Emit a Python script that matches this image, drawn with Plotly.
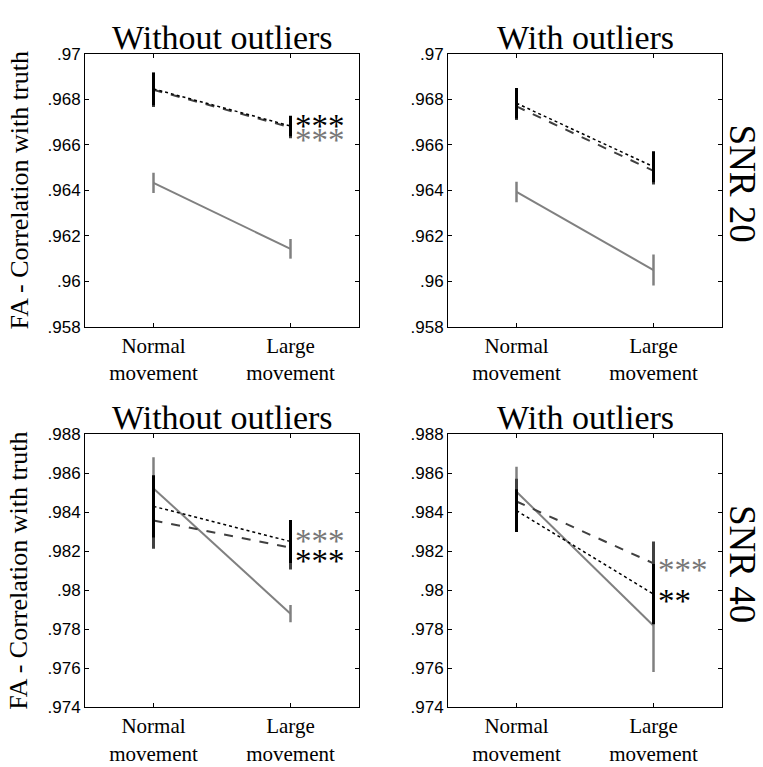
import plotly.graph_objects as go

# ---------------- data ----------------
conditions = ["Normal<br>movement", "Large<br>movement"]
panel_titles = ["Without outliers", "With outliers"]
row_labels = ["SNR 20", "SNR 40"]

# SNR 20 without outliers
s20_wo_solid = [0.96433, 0.96143]
s20_wo_solid_err = [0.00044, 0.00043]
s20_wo_dash = [0.96842, 0.96677]
s20_wo_dash_err = [0.00075, 0.00048]
s20_wo_dot = [0.96846, 0.96683]
s20_wo_dot_err = [0.00072, 0.00045]

# SNR 20 with outliers
s20_w_solid = [0.96393, 0.96050]
s20_w_solid_err = [0.00045, 0.00068]
s20_w_dash = [0.96769, 0.96486]
s20_w_dash_err = [0.00060, 0.00060]
s20_w_dot = [0.96783, 0.96504]
s20_w_dot_err = [0.00067, 0.00068]

# SNR 40 without outliers
s40_wo_solid = [0.98522, 0.97880]
s40_wo_solid_err = [0.00160, 0.00044]
s40_wo_dash = [0.98358, 0.98218]
s40_wo_dash_err = [0.00145, 0.00112]
s40_wo_dot = [0.98430, 0.98250]
s40_wo_dot_err = [0.00160, 0.00110]

# SNR 40 with outliers
s40_w_solid = [0.98505, 0.97818]
s40_w_solid_err = [0.00128, 0.00237]
s40_w_dash = [0.98455, 0.98138]
s40_w_dash_err = [0.00117, 0.00112]
s40_w_dot = [0.98408, 0.97980]
s40_w_dot_err = [0.00110, 0.00155]

top_ticks = [0.958, 0.960, 0.962, 0.964, 0.966, 0.968, 0.970]
top_ticktext = [".958", ".96", ".962", ".964", ".966", ".968", ".97"]
bot_ticks = [0.974, 0.976, 0.978, 0.980, 0.982, 0.984, 0.986, 0.988]
bot_ticktext = [".974", ".976", ".978", ".98", ".982", ".984", ".986", ".988"]

# significance stars: (panel, y value, text, color)
stars = [
    (0, 0.96700, "***", "black"),
    (0, 0.96637, "***", "#777777"),
    (2, 0.98271, "***", "#777777"),
    (2, 0.98172, "***", "black"),
    (3, 0.98122, "***", "#777777"),
    (3, 0.97963, "**", "black"),
]

panels = [
    (s20_wo_solid, s20_wo_solid_err, s20_wo_dash, s20_wo_dash_err, s20_wo_dot, s20_wo_dot_err),
    (s20_w_solid, s20_w_solid_err, s20_w_dash, s20_w_dash_err, s20_w_dot, s20_w_dot_err),
    (s40_wo_solid, s40_wo_solid_err, s40_wo_dash, s40_wo_dash_err, s40_wo_dot, s40_wo_dot_err),
    (s40_w_solid, s40_w_solid_err, s40_w_dash, s40_w_dash_err, s40_w_dot, s40_w_dot_err),
]

# ---------------- layout geometry ----------------
W, H = 763, 767
xdoms = [(85 / W, 359 / W), (448 / W, 722 / W)]
ydoms = [((H - 326) / H, (H - 46) / H), ((H - 716) / H, (H - 436) / H)]

GRAY = "#808080"
DARK = "#404040"

fig = go.Figure()
for i, (sol, sole, das, dase, dot, dote) in enumerate(panels):
    ax = "" if i == 0 else str(i + 1)
    xa, ya = "x" + ax, "y" + ax
    fig.add_trace(go.Scatter(
        x=conditions, y=sol, mode="lines", xaxis=xa, yaxis=ya,
        line=dict(color=GRAY, width=2),
        error_y=dict(type="data", array=sole, color=GRAY, thickness=2.5, width=0),
        showlegend=False, hoverinfo="skip"))
    fig.add_trace(go.Scatter(
        x=conditions, y=das, mode="lines", xaxis=xa, yaxis=ya,
        line=dict(color=DARK, width=2, dash="dash"),
        error_y=dict(type="data", array=dase, color=DARK, thickness=3, width=0),
        showlegend=False, hoverinfo="skip"))
    fig.add_trace(go.Scatter(
        x=conditions, y=dot, mode="lines", xaxis=xa, yaxis=ya,
        line=dict(color="black", width=1.5, dash="dot"),
        error_y=dict(type="data", array=dote, color="black", thickness=3, width=0),
        showlegend=False, hoverinfo="skip"))

axis_common = dict(showline=True, linecolor="black", linewidth=1, mirror="ticks",
                   ticks="inside", ticklen=4, tickcolor="black", showgrid=False,
                   zeroline=False, fixedrange=True)

layout = dict(width=W, height=H, margin=dict(l=0, r=0, t=0, b=0),
              paper_bgcolor="white", plot_bgcolor="white", showlegend=False)

for i in range(4):
    r, c = divmod(i, 2)
    ax = "" if i == 0 else str(i + 1)
    layout["xaxis" + ax] = dict(axis_common, domain=xdoms[c], anchor="y" + ax,
                                type="category", range=[-0.5, 1.5],
                                tickfont=dict(family="Liberation Serif", size=21, color="black"))
    layout["yaxis" + ax] = dict(axis_common, domain=ydoms[r], anchor="x" + ax,
                                range=[top_ticks[0], top_ticks[-1]] if r == 0 else [bot_ticks[0], bot_ticks[-1]],
                                tickvals=top_ticks if r == 0 else bot_ticks,
                                ticktext=top_ticktext if r == 0 else bot_ticktext,
                                tickfont=dict(family="Liberation Sans", size=17, color="black"))

fig.update_layout(**layout)

ann = []
for i in range(4):
    r, c = divmod(i, 2)
    ann.append(dict(text=panel_titles[c], xref="paper", yref="paper",
                    x=(xdoms[c][0] + xdoms[c][1]) / 2, y=ydoms[r][1],
                    xanchor="center", yanchor="bottom", yshift=-4,
                    showarrow=False, font=dict(family="Liberation Serif", size=34, color="black")))
for r in range(2):
    ann.append(dict(text="FA - Correlation with truth", xref="paper", yref="paper",
                    x=19 / W, y=(ydoms[r][0] + ydoms[r][1]) / 2, textangle=-90,
                    xanchor="center", yanchor="middle",
                    showarrow=False, font=dict(family="Liberation Serif", size=26, color="black")))
    ann.append(dict(text=row_labels[r], xref="paper", yref="paper",
                    x=742 / W, y=(ydoms[r][0] + ydoms[r][1]) / 2 + 7 / H, textangle=90,
                    xanchor="center", yanchor="middle",
                    showarrow=False, font=dict(family="Liberation Serif", size=37, color="black")))
for (p, yv, txt, col) in stars:
    ax = "" if p == 0 else str(p + 1)
    ann.append(dict(text=txt, xref="x" + ax, yref="y" + ax, x=conditions[1], y=yv,
                    xanchor="left", yanchor="middle", xshift=2, yshift=-4, showarrow=False,
                    font=dict(family="Liberation Serif", size=33, color=col)))
fig.update_layout(annotations=ann)

fig.write_html("out.html", config={"displayModeBar": False},
               post_script="document.body.style.margin='0';")
